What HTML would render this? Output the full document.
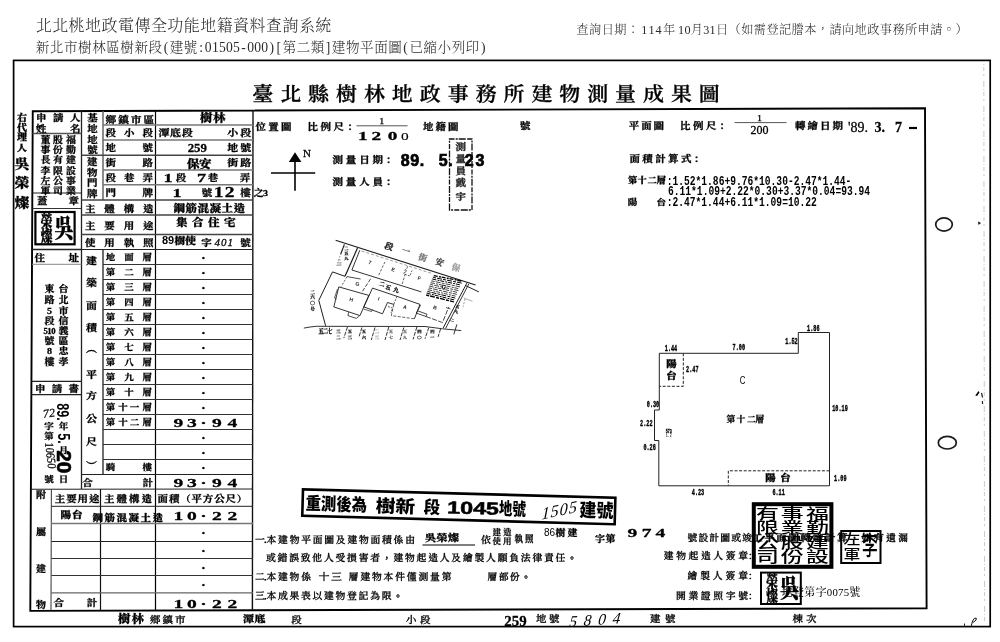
<!DOCTYPE html>
<html lang="zh-Hant">
<head>
<meta charset="utf-8">
<title>建物測量成果圖</title>
<style>
html,body{margin:0;padding:0;background:#fff;}
body{width:1000px;height:642px;overflow:hidden;position:relative;font-family:"Liberation Serif","Noto Serif CJK SC",serif;}
svg{position:absolute;left:0;top:0;display:block;will-change:transform;filter:grayscale(1);}
.k{font-family:"Liberation Serif","Noto Serif CJK SC",serif;stroke:#000;stroke-width:.28px;stroke-linejoin:round;}
.s{font-family:"Liberation Sans","Noto Sans CJK SC",sans-serif;}
.m{font-family:"Liberation Mono","Noto Sans CJK SC",monospace;}
.m.b{stroke:#000;stroke-width:.22px;}
.h{font-family:"Liberation Serif","Noto Serif CJK SC",serif;}
.t{font-family:"Liberation Sans","Noto Sans CJK TC",sans-serif;}
</style>
</head>
<body>
<svg width="1000" height="642" viewBox="0 0 1000 642">
<text class="h" x="35.73 52.18 68.62 85.08 101.53 117.98 134.43 150.88 167.32 183.77 200.22 216.67 233.12 249.57 266.02 282.47 298.92 315.37" y="31" font-size="16" font-weight="300" fill="#2a2a2a">北北桃地政電傳全功能地籍資料查詢系統</text>
<text class="h" x="35.75 49.85 63.95 78.05 92.15 106.25 120.35 134.45 148.55 163.66 169.7 183.8 199.28 204.82 211.88 218.93 225.98 233.03 241.21 247.13 254.18 261.23 269.41 276.46 282.5 296.6 310.7 325.81 331.85 345.95 360.05 374.15 388.25 403.36 409.4 423.5 437.6 451.7 465.8 480.91" y="52" font-size="13.6" font-weight="300" fill="#2a2a2a">新北市樹林區樹新段(建號:01505-000)[第二類]建物平面圖(已縮小列印)</text>
<text class="h" x="576.5 589.1 601.7 614.3 626.9 641.3 648.4 655.5 663.0 678.1 684.4 690.8 703.3 709.6 716.0 728.6 741.2 753.8 766.4 779.0 791.6 804.2 816.8 829.4 842.0 854.6 867.2 879.8 892.4 905.0 917.6 930.2 942.8 955.4" y="33.5" font-size="12.2" font-weight="300" fill="#2a2a2a">查詢日期：114年10月31日（如需登記謄本，請向地政事務所申請。）</text>
<rect x="13.6" y="60.4" width="976.6" height="566.2" fill="none" stroke="#000" stroke-width="1.7"/>
<path d="M30.3,610.9 L32.75,111.3 L925,108.2 L926.6,608.2 Z" fill="none" stroke="#000" stroke-width="1.9"/>
<text class="k" x="247.89 274.22 300.55 326.88 353.21 379.54 405.88 432.21 458.54 484.87 511.2 537.53 563.86 590.19 616.52 642.86 669.19" y="101.33" font-size="19.8" font-weight="600" text-anchor="middle" transform="matrix(1.06 0 0 1 0 0)">臺北縣樹林地政事務所建物測量成果圖</text>
<line x1="253" y1="110" x2="252.4" y2="610" stroke="#111" stroke-width="1.4"/>
<line x1="81.5" y1="111" x2="81.5" y2="489" stroke="#222" stroke-width="1.3"/>
<line x1="103" y1="111" x2="103" y2="200" stroke="#666" stroke-width="1.5"/>
<line x1="103" y1="249.5" x2="103" y2="474.5" stroke="#222" stroke-width="1.3"/>
<line x1="155.5" y1="111" x2="155.5" y2="610" stroke="#000" stroke-width="1.2"/>
<line x1="103" y1="125" x2="253" y2="125" stroke="#777" stroke-width="1.5"/>
<line x1="103" y1="140" x2="253" y2="140" stroke="#777" stroke-width="1.5"/>
<line x1="103" y1="170" x2="253" y2="170" stroke="#777" stroke-width="1.5"/>
<line x1="103" y1="184.8" x2="253" y2="184.8" stroke="#777" stroke-width="1.5"/>
<line x1="81.5" y1="155.3" x2="253" y2="155.3" stroke="#444" stroke-width="1.4"/>
<line x1="81.5" y1="200" x2="253" y2="200" stroke="#444" stroke-width="1.4"/>
<line x1="81.5" y1="215" x2="253" y2="215" stroke="#444" stroke-width="1.4"/>
<line x1="81.5" y1="234.5" x2="253" y2="234.5" stroke="#444" stroke-width="1.4"/>
<line x1="81.5" y1="249.5" x2="253" y2="249.5" stroke="#222" stroke-width="1.2"/>
<line x1="103" y1="264.5" x2="253" y2="264.5" stroke="#333" stroke-width="1"/>
<line x1="103" y1="279.5" x2="253" y2="279.5" stroke="#333" stroke-width="1"/>
<line x1="103" y1="294.5" x2="253" y2="294.5" stroke="#333" stroke-width="1"/>
<line x1="103" y1="309.5" x2="253" y2="309.5" stroke="#333" stroke-width="1"/>
<line x1="103" y1="324.5" x2="253" y2="324.5" stroke="#333" stroke-width="1"/>
<line x1="103" y1="339.5" x2="253" y2="339.5" stroke="#333" stroke-width="1"/>
<line x1="103" y1="354.5" x2="253" y2="354.5" stroke="#333" stroke-width="1"/>
<line x1="103" y1="369.5" x2="253" y2="369.5" stroke="#333" stroke-width="1"/>
<line x1="103" y1="384.5" x2="253" y2="384.5" stroke="#333" stroke-width="1"/>
<line x1="103" y1="399.5" x2="253" y2="399.5" stroke="#333" stroke-width="1"/>
<line x1="103" y1="414.5" x2="253" y2="414.5" stroke="#333" stroke-width="1"/>
<line x1="103" y1="429.5" x2="253" y2="429.5" stroke="#333" stroke-width="1"/>
<line x1="103" y1="444.5" x2="253" y2="444.5" stroke="#333" stroke-width="1"/>
<line x1="103" y1="459.5" x2="253" y2="459.5" stroke="#333" stroke-width="1"/>
<line x1="81.5" y1="474.5" x2="253" y2="474.5" stroke="#222" stroke-width="1.1"/>
<line x1="30.9" y1="489.3" x2="253" y2="489" stroke="#222" stroke-width="1.1"/>
<line x1="32.6" y1="133.5" x2="81.5" y2="133.5" stroke="#555" stroke-width="1.3"/>
<line x1="32.3" y1="193" x2="81.5" y2="193" stroke="#222" stroke-width="1.2"/>
<line x1="32.3" y1="208.5" x2="81.5" y2="208.5" stroke="#333" stroke-width="1.2"/>
<line x1="32.1" y1="249.5" x2="81.5" y2="249.5" stroke="#222" stroke-width="1.3"/>
<line x1="32.0" y1="264.3" x2="81.5" y2="264.3" stroke="#888" stroke-width="1"/>
<line x1="31.4" y1="381.3" x2="81.5" y2="381.3" stroke="#222" stroke-width="1.2"/>
<line x1="31.3" y1="394.7" x2="81.5" y2="394.7" stroke="#222" stroke-width="1.2"/>
<line x1="51.4" y1="489" x2="51.0" y2="610" stroke="#444" stroke-width="1.1"/>
<line x1="100.5" y1="489" x2="100.5" y2="610" stroke="#111" stroke-width="1.2"/>
<line x1="51.4" y1="506.3" x2="253" y2="506.3" stroke="#222" stroke-width="1"/>
<line x1="51.4" y1="523.5" x2="253" y2="523.5" stroke="#777" stroke-width="1.4"/>
<line x1="51.4" y1="541.5" x2="253" y2="541.5" stroke="#222" stroke-width="1"/>
<line x1="51.4" y1="558.5" x2="253" y2="558.5" stroke="#333" stroke-width="1"/>
<line x1="51.4" y1="575.5" x2="253" y2="575.5" stroke="#333" stroke-width="1"/>
<line x1="51.4" y1="592.8" x2="253" y2="592.8" stroke="#666" stroke-width="1.3"/>
<text class="k" x="19.3 19.3 19.3 19.3" y="120.67 130.67 140.47 150.67" font-size="8.8" font-weight="900" text-anchor="middle" transform="matrix(1.14 0 0 1 0 0)">右代理人</text>
<text class="k" x="19.3 19.3 19.3" y="168.09 187.09 206.59" font-size="12.76" font-weight="900" text-anchor="middle" transform="matrix(1.14 0 0 1 0 0)">吳榮燦</text>
<text class="k" x="36.18 51.1 66.01" y="121.33" font-size="9.24" font-weight="700" text-anchor="middle" transform="matrix(1.14 0 0 1 0 0)">申請人</text>
<text class="k" x="36.18 66.01" y="132.13" font-size="9.24" font-weight="700" text-anchor="middle" transform="matrix(1.14 0 0 1 0 0)">姓名</text>
<text class="k" x="62.28 62.28 62.28 62.28 62.28 62.28" y="142.57 153.17 163.47 173.67 183.87 193.87" font-size="8.8" font-weight="700" text-anchor="middle" transform="matrix(1.14 0 0 1 0 0)">福勤建設事業</text>
<text class="k" x="50.88 50.88 50.88 50.88 50.88 50.88" y="142.57 153.17 163.47 173.67 183.87 193.87" font-size="8.8" font-weight="700" text-anchor="middle" transform="matrix(1.14 0 0 1 0 0)">股份有限公司</text>
<text class="k" x="40.0 40.0 40.0 40.0 40.0 40.0" y="142.57 153.17 163.47 173.67 183.87 193.87" font-size="8.8" font-weight="700" text-anchor="middle" transform="matrix(1.14 0 0 1 0 0)">董事長李左軍</text>
<text class="k" x="37.06 64.69" y="203.83" font-size="9.24" font-weight="700" text-anchor="middle" transform="matrix(1.14 0 0 1 0 0)">蓋章</text>
<rect x="35.4" y="212" width="39.2" height="32.3" fill="none" stroke="#000" stroke-width="2.2"/>
<text class="k" x="71.1 51.7 51.7" y="197.9 188.8 201.3" font-weight="900" text-anchor="middle" transform="matrix(0.9 0 0 1.2 0 0)"><tspan font-size="21">吳</tspan><tspan font-size="13">榮燦</tspan></text>
<text class="k" x="34.87 64.69" y="260.63" font-size="9.24" font-weight="700" text-anchor="middle" transform="matrix(1.14 0 0 1 0 0)">住址</text>
<text class="k" x="55.7 55.7 55.7 55.7 55.7 55.7 55.7 55.7" y="291.87 302.87 313.67 323.77 333.77 343.77 354.17 364.57" font-size="8.8" font-weight="700" text-anchor="middle" transform="matrix(1.14 0 0 1 0 0)">台北市信義區忠孝</text>
<text class="k" x="43.42 43.42 43.42 43.42 40.0 43.42 46.84 43.42 43.42 43.42" y="291.9 302.9 313.7 323.8 333.8 333.8 333.8 343.8 354.2 364.6" font-size="8.8" font-weight="700" text-anchor="middle" transform="matrix(1.14 0 0 1 0 0)">東路5段<tspan font-size="7.6">510</tspan>號8樓</text>
<text class="k" x="35.31 50.0 64.69" y="391.63" font-size="9.24" font-weight="700" text-anchor="middle" transform="matrix(1.14 0 0 1 0 0)">申請書</text>
<text class="k" x="81.14 81.14 81.14 81.14" y="121.33 132.13 142.73 153.33" font-size="9.24" font-weight="700" text-anchor="middle" transform="matrix(1.14 0 0 1 0 0)">基地地號</text>
<text class="k" x="80.88 80.88 80.88 80.88" y="165.13 175.73 186.33 196.93" font-size="9.24" font-weight="700" text-anchor="middle" transform="matrix(1.14 0 0 1 0 0)">建物門牌</text>
<text class="k" x="94.47 105.25 116.04 126.82" y="122.53" font-size="9.24" font-weight="700" text-anchor="middle" transform="matrix(1.174 0 0 1 0 0)">鄉鎮市區</text>
<text class="k" x="97.15 113.38 129.61" y="136.03" font-size="9.24" font-weight="700" text-anchor="middle" transform="matrix(1.14 0 0 1 0 0)">段小段</text>
<text class="k" x="97.15 129.61" y="151.03" font-size="9.24" font-weight="700" text-anchor="middle" transform="matrix(1.14 0 0 1 0 0)">地號</text>
<text class="k" x="97.15 129.61" y="166.03" font-size="9.24" font-weight="700" text-anchor="middle" transform="matrix(1.14 0 0 1 0 0)">街路</text>
<text class="k" x="97.15 113.38 129.61" y="181.03" font-size="9.24" font-weight="700" text-anchor="middle" transform="matrix(1.14 0 0 1 0 0)">段巷弄</text>
<text class="k" x="97.15 129.61" y="196.03" font-size="9.24" font-weight="700" text-anchor="middle" transform="matrix(1.14 0 0 1 0 0)">門牌</text>
<text class="k" x="79.17 96.13 113.08 130.04" y="211.83" font-size="9.24" font-weight="700" text-anchor="middle" transform="matrix(1.14 0 0 1 0 0)">主體構造</text>
<text class="k" x="79.17 96.13 113.08 130.04" y="228.83" font-size="9.24" font-weight="700" text-anchor="middle" transform="matrix(1.14 0 0 1 0 0)">主要用途</text>
<text class="k" x="79.17 96.13 113.08 130.04" y="245.83" font-size="9.24" font-weight="700" text-anchor="middle" transform="matrix(1.14 0 0 1 0 0)">使用執照</text>
<text class="k" x="180.92 192.41" y="122.26" font-size="11.0" font-weight="900" text-anchor="middle" transform="matrix(1.14 0 0 1 0 0)">樹林</text>
<text class="k" x="143.77 154.04 164.3" y="136.18" font-size="9.68" font-weight="700" text-anchor="middle" transform="matrix(1.14 0 0 1 0 0)">潭底段</text>
<text class="k" x="204.12 215.53" y="136.18" font-size="9.68" font-weight="700" text-anchor="middle" transform="matrix(1.14 0 0 1 0 0)">小段</text>
<text class="k" x="197.3" y="152.28" font-size="11.88" font-weight="700" text-anchor="middle" transform="matrix(1.083 0 0 1 -16.38 0)">259</text>
<text class="k" x="204.12 215.53" y="151.18" font-size="9.68" font-weight="700" text-anchor="middle" transform="matrix(1.14 0 0 1 0 0)">地號</text>
<text class="k" x="169.52 180.04" y="167.96" font-size="11.0" font-weight="900" text-anchor="middle" transform="matrix(1.14 0 0 1 0 0)">保安</text>
<text class="k" x="204.12 215.53" y="166.18" font-size="9.68" font-weight="700" text-anchor="middle" transform="matrix(1.14 0 0 1 0 0)">街路</text>
<text class="k" x="168" y="181.78" font-size="11.88" font-weight="700" text-anchor="middle" transform="matrix(1.539 0 0 1 -90.55 0)">1</text>
<text class="k" x="181" y="181.03" font-size="9.24" font-weight="700" text-anchor="middle" transform="matrix(1.14 0 0 1 -25.34 0)">段</text>
<text class="k" x="201.5" y="181.78" font-size="11.88" font-weight="700" text-anchor="middle" transform="matrix(1.539 0 0 1 -108.61 0)">7</text>
<text class="k" x="213" y="181.03" font-size="9.24" font-weight="700" text-anchor="middle" transform="matrix(1.14 0 0 1 -29.82 0)">巷</text>
<text class="k" x="245" y="181.03" font-size="9.24" font-weight="700" text-anchor="middle" transform="matrix(1.14 0 0 1 -34.3 0)">弄</text>
<text class="k" x="177" y="196.78" font-size="11.88" font-weight="700" text-anchor="middle" transform="matrix(1.539 0 0 1 -95.4 0)">1</text>
<text class="k" x="207" y="196.03" font-size="9.24" font-weight="700" text-anchor="middle" transform="matrix(1.14 0 0 1 -28.98 0)">號</text>
<text class="k" x="153.33 161.05" y="197.21" font-size="13.64" font-weight="700" text-anchor="middle" transform="matrix(1.425 0 0 1 0 0)">12</text>
<text class="k" x="245.5" y="196.03" font-size="9.24" font-weight="700" text-anchor="middle" transform="matrix(1.14 0 0 1 -34.37 0)">樓</text>
<text class="k" x="227.02 232.89" y="196.17" font-size="8.8" font-weight="700" text-anchor="middle" transform="matrix(1.14 0 0 1 0 0)">之3</text>
<text class="k" x="157.32 167.83 178.34 188.85 199.36 209.87" y="211.64" font-size="10.12" font-weight="900" text-anchor="middle" transform="matrix(1.14 0 0 1 0 0)">鋼筋混凝土造</text>
<text class="k" x="159.43 173.46 187.5 201.54" y="226.44" font-size="10.12" font-weight="900" text-anchor="middle" transform="matrix(1.14 0 0 1 0 0)">集合住宅</text>
<text class="s" x="168" y="244.46" font-size="11" font-weight="700" text-anchor="middle">89</text>
<text class="k" x="157.89 167.11" y="243.98" font-size="9.68" font-weight="900" text-anchor="middle" transform="matrix(1.14 0 0 1 0 0)">樹使</text>
<text class="k" x="206.5" y="245.83" font-size="9.24" font-weight="700" text-anchor="middle" transform="matrix(1.14 0 0 1 -28.91 0)">字</text>
<text class="k" x="214.5" y="245.5" font-size="11" font-weight="400" textLength="18.5" lengthAdjust="spacing" font-style="italic">401</text>
<text class="k" x="245.5" y="245.83" font-size="9.24" font-weight="700" text-anchor="middle" transform="matrix(1.14 0 0 1 -34.37 0)">號</text>
<text class="k" x="80.35 80.35 80.35 80.35 80.35 80.35 80.35 80.35 80.35 80.35" y="264.08 286.48 309.48 331.28 352.08 377.98 399.38 421.68 445.38 469.48" font-size="9.68" font-weight="700" text-anchor="middle" transform="matrix(1.14 0 0 1 0 0)">建築面積︵平方公尺︶</text>
<text class="k" x="96.93 113.16 129.21" y="260.01" font-size="8.36" font-weight="700" text-anchor="middle" transform="matrix(1.14 0 0 1 0 0)">地面層</text>
<text class="k" x="162.2" y="261.52" font-size="11.44" font-weight="700" text-anchor="middle" transform="matrix(1.254 0 0 1 0 0)">·</text>
<text class="k" x="96.93 113.16 129.21" y="275.01" font-size="8.36" font-weight="700" text-anchor="middle" transform="matrix(1.14 0 0 1 0 0)">第二層</text>
<text class="k" x="162.2" y="276.52" font-size="11.44" font-weight="700" text-anchor="middle" transform="matrix(1.254 0 0 1 0 0)">·</text>
<text class="k" x="96.93 113.16 129.21" y="290.01" font-size="8.36" font-weight="700" text-anchor="middle" transform="matrix(1.14 0 0 1 0 0)">第三層</text>
<text class="k" x="162.2" y="291.52" font-size="11.44" font-weight="700" text-anchor="middle" transform="matrix(1.254 0 0 1 0 0)">·</text>
<text class="k" x="96.93 113.16 129.21" y="305.01" font-size="8.36" font-weight="700" text-anchor="middle" transform="matrix(1.14 0 0 1 0 0)">第四層</text>
<text class="k" x="162.2" y="306.52" font-size="11.44" font-weight="700" text-anchor="middle" transform="matrix(1.254 0 0 1 0 0)">·</text>
<text class="k" x="96.93 113.16 129.21" y="320.01" font-size="8.36" font-weight="700" text-anchor="middle" transform="matrix(1.14 0 0 1 0 0)">第五層</text>
<text class="k" x="162.2" y="321.52" font-size="11.44" font-weight="700" text-anchor="middle" transform="matrix(1.254 0 0 1 0 0)">·</text>
<text class="k" x="96.93 113.16 129.21" y="335.01" font-size="8.36" font-weight="700" text-anchor="middle" transform="matrix(1.14 0 0 1 0 0)">第六層</text>
<text class="k" x="162.2" y="336.52" font-size="11.44" font-weight="700" text-anchor="middle" transform="matrix(1.254 0 0 1 0 0)">·</text>
<text class="k" x="96.93 113.16 129.21" y="350.01" font-size="8.36" font-weight="700" text-anchor="middle" transform="matrix(1.14 0 0 1 0 0)">第七層</text>
<text class="k" x="162.2" y="351.52" font-size="11.44" font-weight="700" text-anchor="middle" transform="matrix(1.254 0 0 1 0 0)">·</text>
<text class="k" x="96.93 113.16 129.21" y="365.01" font-size="8.36" font-weight="700" text-anchor="middle" transform="matrix(1.14 0 0 1 0 0)">第八層</text>
<text class="k" x="162.2" y="366.52" font-size="11.44" font-weight="700" text-anchor="middle" transform="matrix(1.254 0 0 1 0 0)">·</text>
<text class="k" x="96.93 113.16 129.21" y="380.01" font-size="8.36" font-weight="700" text-anchor="middle" transform="matrix(1.14 0 0 1 0 0)">第九層</text>
<text class="k" x="162.2" y="381.52" font-size="11.44" font-weight="700" text-anchor="middle" transform="matrix(1.254 0 0 1 0 0)">·</text>
<text class="k" x="96.93 113.16 129.21" y="395.01" font-size="8.36" font-weight="700" text-anchor="middle" transform="matrix(1.14 0 0 1 0 0)">第十層</text>
<text class="k" x="162.2" y="396.52" font-size="11.44" font-weight="700" text-anchor="middle" transform="matrix(1.254 0 0 1 0 0)">·</text>
<text class="k" x="96.93 107.89 118.07 129.21" y="410.01" font-size="8.36" font-weight="700" text-anchor="middle" transform="matrix(1.14 0 0 1 0 0)">第十一層</text>
<text class="k" x="162.2" y="411.52" font-size="11.44" font-weight="700" text-anchor="middle" transform="matrix(1.254 0 0 1 0 0)">·</text>
<text class="k" x="96.93 107.89 118.07 129.21" y="425.01" font-size="8.36" font-weight="700" text-anchor="middle" transform="matrix(1.14 0 0 1 0 0)">第十二層</text>
<text class="k" x="162.2" y="441.52" font-size="11.44" font-weight="700" text-anchor="middle" transform="matrix(1.254 0 0 1 0 0)">·</text>
<text class="k" x="162.2" y="456.52" font-size="11.44" font-weight="700" text-anchor="middle" transform="matrix(1.254 0 0 1 0 0)">·</text>
<text class="k" x="96.93 129.21" y="470.01" font-size="8.36" font-weight="700" text-anchor="middle" transform="matrix(1.14 0 0 1 0 0)">騎樓</text>
<text class="k" x="162.2" y="471.52" font-size="11.44" font-weight="700" text-anchor="middle" transform="matrix(1.254 0 0 1 0 0)">·</text>
<text class="k" x="120.45 129.55 137.31 146.42 156.75" y="426.95" font-size="13.2" font-weight="700" text-anchor="middle" transform="matrix(1.482 0 0 1 0 0)">93·94</text>
<text class="k" x="76.75 129.65" y="485.83" font-size="9.24" font-weight="700" text-anchor="middle" transform="matrix(1.14 0 0 1 0 0)">合計</text>
<text class="k" x="120.45 129.55 137.31 146.42 156.75" y="487.45" font-size="13.2" font-weight="700" text-anchor="middle" transform="matrix(1.482 0 0 1 0 0)">93·94</text>
<text class="k" x="35.96 35.96 35.96 35.96" y="497.87 534.67 572.17 608.17" font-size="8.8" font-weight="700" text-anchor="middle" transform="matrix(1.14 0 0 1 0 0)">附屬建物</text>
<text class="k" x="52.68 62.68 72.68 82.68" y="502.23" font-size="9.24" font-weight="700" text-anchor="middle" transform="matrix(1.14 0 0 1 0 0)">主要用途</text>
<text class="k" x="95.83 106.8 117.76 128.73" y="502.23" font-size="9.24" font-weight="700" text-anchor="middle" transform="matrix(1.14 0 0 1 0 0)">主體構造</text>
<text class="k" x="142.85 152.78 162.7 172.63 182.55 192.47 202.4 212.32" y="502.23" font-size="9.24" font-weight="700" text-anchor="middle" transform="matrix(1.14 0 0 1 0 0)">面積（平方公尺）</text>
<text class="k" x="57.68 67.76" y="517.83" font-size="9.24" font-weight="900" text-anchor="middle" transform="matrix(1.14 0 0 1 0 0)">陽台</text>
<text class="k" x="85.75 96.27 106.8 117.32 127.85 138.38" y="520.83" font-size="9.24" font-weight="900" text-anchor="middle" transform="matrix(1.14 0 0 1 0 0)">鋼筋混凝土造</text>
<text class="k" x="120.45 129.55 137.31 146.42 156.75" y="520.35" font-size="13.2" font-weight="700" text-anchor="middle" transform="matrix(1.482 0 0 1 0 0)">10·22</text>
<text class="k" x="162.2" y="537.02" font-size="11.44" font-weight="700" text-anchor="middle" transform="matrix(1.254 0 0 1 0 0)">·</text>
<text class="k" x="162.2" y="554.52" font-size="11.44" font-weight="700" text-anchor="middle" transform="matrix(1.254 0 0 1 0 0)">·</text>
<text class="k" x="162.2" y="571.52" font-size="11.44" font-weight="700" text-anchor="middle" transform="matrix(1.254 0 0 1 0 0)">·</text>
<text class="k" x="162.2" y="588.52" font-size="11.44" font-weight="700" text-anchor="middle" transform="matrix(1.254 0 0 1 0 0)">·</text>
<text class="k" x="51.58 80.7" y="606.13" font-size="9.24" font-weight="700" text-anchor="middle" transform="matrix(1.14 0 0 1 0 0)">合計</text>
<text class="k" x="120.45 129.55 137.31 146.42 156.75" y="607.75" font-size="13.2" font-weight="700" text-anchor="middle" transform="matrix(1.482 0 0 1 0 0)">10·22</text>
<text class="k" x="228.73 239.91 251.1" y="129.63" font-size="9.24" font-weight="700" text-anchor="middle" transform="matrix(1.14 0 0 1 0 0)">位置圖</text>
<text class="k" x="274.34 285.75 297.15" y="129.63" font-size="9.24" font-weight="700" text-anchor="middle" transform="matrix(1.14 0 0 1 0 0)">比例尺</text>
<text class="k" x="352.5" y="129.63" font-size="9.24" font-weight="700" text-anchor="middle" transform="matrix(1.14 0 0 1 -49.35 0)">：</text>
<line x1="356.5" y1="125.8" x2="407.5" y2="125.8" stroke="#555" stroke-width="1"/>
<text class="k" x="381.8" y="123.97" font-size="8.8" font-weight="400" text-anchor="middle" transform="matrix(1.14 0 0 1 -53.45 0)">1</text>
<text class="k" x="247.7 256.9 268 276.4" y="140.35" font-size="13.2" font-weight="700" text-anchor="middle" transform="matrix(1.465 0 0 1 0 0)">120<tspan font-size="10.5" font-weight="400" dy="-0.6" style="stroke-width:.1px">0</tspan></text>
<text class="k" x="375.66 386.62 397.59" y="129.63" font-size="9.24" font-weight="700" text-anchor="middle" transform="matrix(1.14 0 0 1 0 0)">地籍圖</text>
<text class="k" x="525.3" y="128.53" font-size="9.24" font-weight="700" text-anchor="middle" transform="matrix(1.14 0 0 1 -73.54 0)">號</text>
<text class="k" x="556.18 567.02 577.85" y="128.63" font-size="9.24" font-weight="700" text-anchor="middle" transform="matrix(1.14 0 0 1 0 0)">平面圖</text>
<text class="k" x="601.1 612.5 623.9" y="128.63" font-size="9.24" font-weight="700" text-anchor="middle" transform="matrix(1.14 0 0 1 0 0)">比例尺</text>
<text class="k" x="724.5" y="128.63" font-size="9.24" font-weight="700" text-anchor="middle" transform="matrix(1.14 0 0 1 -101.43 0)">：</text>
<line x1="734.5" y1="122.6" x2="786.5" y2="122.6" stroke="#555" stroke-width="1"/>
<text class="k" x="759.5" y="121.47" font-size="8.8" font-weight="400" text-anchor="middle" transform="matrix(1.14 0 0 1 -106.33 0)">1</text>
<text class="k" x="759.5" y="133.92" font-size="11.44" font-weight="400" text-anchor="middle" transform="matrix(1.049 0 0 1 -37.22 0)">200</text>
<text class="k" x="701.97 712.94 723.9 734.87" y="128.63" font-size="9.24" font-weight="700" text-anchor="middle" transform="matrix(1.14 0 0 1 0 0)">轉繪日期</text>
<text class="k" x="848" y="132" font-size="14" font-weight="400">&#x27;89.</text>
<text class="k" x="874.5" y="132" font-size="14" font-weight="900">3.</text>
<text class="k" x="895" y="132" font-size="14" font-weight="900">7</text>
<line x1="909" y1="128" x2="917" y2="128" stroke="#000" stroke-width="2.2"/>
<line x1="295" y1="160" x2="295" y2="190.8" stroke="#000" stroke-width="1.6"/>
<line x1="271" y1="173" x2="315.2" y2="173" stroke="#000" stroke-width="1.3"/>
<path d="M295,152.2 L301.4,162 L288.8,162 Z" fill="#000"/>
<text class="k" x="307" y="157.28" font-size="9.68" font-weight="400" text-anchor="middle" transform="matrix(1.14 0 0 1 -42.98 0)">N</text>
<text class="k" x="296.27 307.97 319.66 331.36" y="163.33" font-size="9.24" font-weight="700" text-anchor="middle" transform="matrix(1.14 0 0 1 0 0)">測量日期</text>
<text class="k" x="391" y="163.33" font-size="9.24" font-weight="700" text-anchor="middle" transform="matrix(1.14 0 0 1 -54.74 0)">：</text>
<text class="s" x="400.8" y="165.6" font-size="16" font-weight="700" letter-spacing="0.6" stroke="#000" stroke-width="0.7">89.</text>
<text class="s" x="438.8" y="165.6" font-size="16" font-weight="700" letter-spacing="0.6" stroke="#000" stroke-width="0.7">5.</text>
<text class="s" x="464.8" y="165.6" font-size="16" font-weight="700" letter-spacing="1.8" stroke="#000" stroke-width="0.7">23</text>
<text class="k" x="296.27 307.97 319.66 331.36" y="185.13" font-size="9.24" font-weight="700" text-anchor="middle" transform="matrix(1.14 0 0 1 0 0)">測量人員</text>
<text class="k" x="391" y="185.13" font-size="9.24" font-weight="700" text-anchor="middle" transform="matrix(1.14 0 0 1 -54.74 0)">：</text>
<rect x="449.5" y="139" width="22.5" height="71" fill="none" stroke="#111" stroke-width="1.3" stroke-dasharray="5 1.2 2 1 7 1.5"/>
<text class="k" x="404.21 404.21 404.21 404.21 404.21" y="149.83 161.83 173.83 186.33 200.33" font-size="9.24" font-weight="700" text-anchor="middle" transform="matrix(1.14 0 0 1 0 0)" fill="#222" style="stroke:#222">測量員戴宇</text>
<text class="k" x="556.8 568.09 579.39 590.68 601.97" y="162.13" font-size="9.24" font-weight="700" text-anchor="middle" transform="matrix(1.14 0 0 1 0 0)">面積計算式</text>
<text class="k" x="699" y="162.13" font-size="9.24" font-weight="700" text-anchor="middle" transform="matrix(1.14 0 0 1 -97.86 0)">：</text>
<text class="k" x="554.91 563.42 572.19 580.26" y="182.94" font-size="8.18" font-weight="800" text-anchor="middle" transform="matrix(1.14 0 0 1 0 0)">第十二層</text>
<text class="m" transform="translate(666.7 184.7) scale(1 1.355)" font-size="9.625" font-weight="700">:1.52*1.86+9.76*10.30-2.47*1.44-</text>
<text class="m" transform="translate(668 195.3) scale(1 1.355)" font-size="9.625" font-weight="700">6.11*1.09+2.22*0.30+3.37*0.04=93.94</text>
<text class="k" x="554.91 580.09" y="204.81" font-size="8.36" font-weight="700" text-anchor="middle" transform="matrix(1.14 0 0 1 0 0)">陽台</text>
<text class="m" transform="translate(666.7 206.3) scale(1 1.355)" font-size="9.625" font-weight="700">:2.47*1.44+6.11*1.09=10.22</text>
<path d="M659.3,353.3 L798.3,353.3 L798.3,332.5 L829.5,332.5 L829.5,485.8 L658.8,485.8 L658.8,440.5 L654.5,440.5 L654.5,410 L659.3,410 L659.3,353.3" fill="none" stroke="#222" stroke-width="1"/>
<path d="M683.3,353.3 L683.3,386.3 L659.3,386.3" fill="none" stroke="#222" stroke-width="1" stroke-dasharray="3 1.6"/>
<path d="M829.5,470.8 L728.3,470.8 L728.3,485.8" fill="none" stroke="#222" stroke-width="1" stroke-dasharray="3 1.6"/>
<text class="m b" transform="translate(664.8 350.5) scale(1 1.683)" font-size="5.167" font-weight="700">1.44</text>
<text class="m b" transform="translate(732.6 350.2) scale(1 1.683)" font-size="5.167" font-weight="700">7.00</text>
<text class="m b" transform="translate(785.3 344.2) scale(1 1.683)" font-size="5.167" font-weight="700">1.52</text>
<text class="m b" transform="translate(807.1 330.5) scale(1 1.683)" font-size="5.167" font-weight="700">1.86</text>
<text class="m b" transform="translate(686.1 372.3) scale(1 1.683)" font-size="5.167" font-weight="700">2.47</text>
<text class="m b" transform="translate(832.25 411.3) scale(1 1.683)" font-size="5.167" font-weight="700">10.19</text>
<text class="m b" transform="translate(646.8 406.8) scale(1 1.683)" font-size="5.167" font-weight="700">0.30</text>
<text class="m b" transform="translate(640.1 426.3) scale(1 1.683)" font-size="5.167" font-weight="700">2.22</text>
<text class="m b" transform="translate(643.4 450.3) scale(1 1.683)" font-size="5.167" font-weight="700">0.26</text>
<text class="m b" transform="translate(691.8 495.0) scale(1 1.683)" font-size="5.167" font-weight="700">4.23</text>
<text class="m b" transform="translate(772.4 495.0) scale(1 1.683)" font-size="5.167" font-weight="700">6.11</text>
<text class="m b" transform="translate(834.1 480.5) scale(1 1.683)" font-size="5.167" font-weight="700">1.09</text>
<text class="s" x="742.5" y="383.78" font-size="10.5" font-weight="400" text-anchor="middle" transform="matrix(0.75 0 0 1 185.62 0)">C</text>
<text class="k" x="588.86 588.86" y="367.26 379.46" font-size="9.06" font-weight="900" text-anchor="middle" transform="matrix(1.14 0 0 1 0 0)">陽台</text>
<text class="k" x="675.88 689.04" y="481.46" font-size="9.06" font-weight="900" text-anchor="middle" transform="matrix(1.14 0 0 1 0 0)">陽台</text>
<text class="k" x="641.23 649.82 659.21 666.67" y="422.09" font-size="7.74" font-weight="700" text-anchor="middle" transform="matrix(1.14 0 0 1 0 0)">第十二層</text>
<text class="m b" transform="translate(665.7 432.7) scale(1 1.478)" font-size="3.333" font-weight="700">573</text>
<text class="m" transform="translate(665.7 436.6) scale(1 1.391)" font-size="3.333" font-weight="700" fill="#444">1.2</text>
<g transform="rotate(1.55 303 489)">
<rect x="303" y="489.3" width="312.5" height="26.5" fill="none" stroke="#000" stroke-width="2.6"/>
<text class="s" x="306" y="509.5" font-size="17.5" font-weight="900" textLength="61.5" lengthAdjust="spacingAndGlyphs">重測後為</text>
<text class="s" x="376" y="510" font-size="17.5" font-weight="900" textLength="39.5" lengthAdjust="spacingAndGlyphs">樹新</text>
<text class="s" x="424" y="510" font-size="17.5" font-weight="900" textLength="16.5" lengthAdjust="spacingAndGlyphs">段</text>
<text class="s" x="447.5" y="509.5" font-size="17.5" font-weight="700" textLength="52" lengthAdjust="spacingAndGlyphs" stroke="#000" stroke-width="0.5">1045</text>
<text class="s" x="499.5" y="509.5" font-size="17.5" font-weight="900" textLength="27" lengthAdjust="spacingAndGlyphs">地號</text>
<text class="s" x="580" y="509" font-size="18.5" font-weight="900" textLength="34" lengthAdjust="spacingAndGlyphs">建號</text>
</g>
<text class="h" transform="translate(541.5 519.5) rotate(-12) skewX(-14)" font-size="16.5" font-weight="400" font-style="italic" textLength="36" lengthAdjust="spacing">1505</text>
<text class="k" x="227.98 238.12 248.25 258.39 268.52 278.66 288.79 298.93 309.06 319.2 329.33 339.47 349.6 359.74" y="542.6" font-size="8.62" font-weight="500" text-anchor="middle" transform="matrix(1.14 0 0 1 0 0)">一本建物平面圖及建物面積係由</text>
<rect x="264.5" y="541.5" width="1.6" height="1.6" fill="#000"/>
<text class="k" x="377.63 387.72 397.81" y="541.48" font-size="9.68" font-weight="900" text-anchor="middle" transform="matrix(1.14 0 0 1 0 0)">吳榮燦</text>
<line x1="422.5" y1="545" x2="475" y2="545" stroke="#000" stroke-width="1.1"/>
<text class="k" x="486" y="542.6" font-size="8.62" font-weight="500" text-anchor="middle" transform="matrix(1.14 0 0 1 -68.04 0)">依</text>
<text class="k" x="435.75 444.96" y="535.19" font-size="7.48" font-weight="500" text-anchor="middle" transform="matrix(1.14 0 0 1 0 0)">建造</text>
<text class="k" x="435.75 444.96" y="544.19" font-size="7.48" font-weight="500" text-anchor="middle" transform="matrix(1.14 0 0 1 0 0)">使用</text>
<text class="k" x="568.75 580.37" y="542.33" font-size="9.24" font-weight="700" text-anchor="middle" transform="matrix(0.912 0 0 1 0 0)">執照</text>
<text class="s" x="549.5" y="536.1" font-size="10" font-weight="400" text-anchor="middle">86</text>
<text class="k" x="491.67 502.19" y="535.67" font-size="8.8" font-weight="700" text-anchor="middle" transform="matrix(1.14 0 0 1 0 0)">樹建</text>
<text class="k" x="526.32 535.53" y="541.67" font-size="8.8" font-weight="700" text-anchor="middle" transform="matrix(1.14 0 0 1 0 0)">字第</text>
<text class="k" x="426.79 436.37 445.55" y="536.75" font-size="13.2" font-weight="700" text-anchor="middle" transform="matrix(1.482 0 0 1 0 0)">974</text>
<text class="k" x="607.37 616.96 626.56 636.16 645.75 655.35" y="541.1" font-size="8.62" font-weight="500" text-anchor="middle" transform="matrix(1.14 0 0 1 0 0)">號設計圖或竣</text>
<text class="k" x="781.49 792.19" y="540.6" font-size="8.62" font-weight="500" text-anchor="middle" transform="matrix(1.14 0 0 1 0 0)">遺漏</text>
<text class="k" x="237.63 247.79 257.96 268.12 278.28 288.44 298.6 308.77 318.93 329.09 339.25 349.41 359.57 369.74 379.9 390.06 400.22 410.38 420.55 430.71 440.87 451.03 461.19 471.36 481.52 491.68 501.84" y="561.1" font-size="8.62" font-weight="500" text-anchor="middle" transform="matrix(1.14 0 0 1 0 0)">或錯誤致他人受損害者<tspan class="t" font-weight="500" font-size="7.9">，</tspan>建物起造人及繪製人願負法律責任<tspan class="t" font-weight="500" font-size="7.9">。</tspan></text>
<text class="k" x="586.58 597.46 608.33 619.21 630.09 640.96 651.84" y="559.4" font-size="8.62" font-weight="500" text-anchor="middle" transform="matrix(1.14 0 0 1 0 0)">建物起造人簽章</text>
<text class="k" x="753" y="559.4" font-size="8.62" font-weight="500" text-anchor="middle" transform="matrix(1.14 0 0 1 -105.42 0)">：</text>
<text class="k" x="227.98 238.11 248.25 258.38 268.51" y="580.1" font-size="8.62" font-weight="500" text-anchor="middle" transform="matrix(1.14 0 0 1 0 0)">二本建物係</text>
<rect x="264.5" y="579" width="1.6" height="1.6" fill="#000"/>
<text class="k" x="284.21 295.18" y="579.78" font-size="9.68" font-weight="400" text-anchor="middle" transform="matrix(1.14 0 0 1 0 0)">十三</text>
<text class="k" x="310.26 320.45 330.64 340.82 351.01 361.2 371.38 381.57 391.75" y="580.1" font-size="8.62" font-weight="500" text-anchor="middle" transform="matrix(1.14 0 0 1 0 0)">層建物本件僅測量第</text>
<text class="k" x="431.93 441.78 451.64 461.49" y="580.1" font-size="8.62" font-weight="500" text-anchor="middle" transform="matrix(1.14 0 0 1 0 0)">層部份<tspan class="t" font-weight="500" font-size="7.9">。</tspan></text>
<text class="k" x="607.37 618.49 629.61 640.72 651.84" y="579.4" font-size="8.62" font-weight="500" text-anchor="middle" transform="matrix(1.14 0 0 1 0 0)">繪製人簽章</text>
<text class="k" x="753" y="579.4" font-size="8.62" font-weight="500" text-anchor="middle" transform="matrix(1.14 0 0 1 -105.42 0)">：</text>
<text class="k" x="227.98 238.08 248.19 258.29 268.39 278.49 288.6 298.7 308.8 318.9 329.01 339.11 349.21" y="599.1" font-size="8.62" font-weight="500" text-anchor="middle" transform="matrix(1.14 0 0 1 0 0)">三本成果表以建物登記為限<tspan class="t" font-weight="500" font-size="7.9">。</tspan></text>
<rect x="264.5" y="598" width="1.6" height="1.6" fill="#000"/>
<text class="k" x="597.28 608.19 619.11 630.02 640.93 651.84" y="598.9" font-size="8.62" font-weight="500" text-anchor="middle" transform="matrix(1.14 0 0 1 0 0)">開業證照字號</text>
<text class="k" x="753" y="598.9" font-size="8.62" font-weight="500" text-anchor="middle" transform="matrix(1.14 0 0 1 -105.42 0)">：</text>
<text class="h" x="781.75 793.05 804.35 815.65 826.82 832.47 838.12 843.77 849.55" y="596.3" font-size="10.8" font-weight="500" fill="#000">地登第字0075號</text>
<text class="k" x="108.99 120.83" y="622.96" font-size="11.0" font-weight="900" text-anchor="middle" transform="matrix(1.14 0 0 1 0 0)">樹林</text>
<text class="k" x="136.18 147.15 158.11" y="622.63" font-size="9.24" font-weight="500" text-anchor="middle" transform="matrix(1.14 0 0 1 0 0)">鄉鎮市</text>
<text class="k" x="217.98 228.07" y="621.98" font-size="9.68" font-weight="900" text-anchor="middle" transform="matrix(1.14 0 0 1 0 0)">潭底</text>
<text class="k" x="296.5" y="622.63" font-size="9.24" font-weight="500" text-anchor="middle" transform="matrix(1.14 0 0 1 -41.51 0)">段</text>
<text class="k" x="360.75 373.03" y="622.63" font-size="9.24" font-weight="500" text-anchor="middle" transform="matrix(1.14 0 0 1 0 0)">小段</text>
<text class="k" x="515.5" y="626.07" font-size="14.08" font-weight="700" text-anchor="middle" transform="matrix(1.06 0 0 1 -30.93 0)">259</text>
<text class="k" x="474.78 486.18" y="621.83" font-size="9.24" font-weight="500" text-anchor="middle" transform="matrix(1.14 0 0 1 0 0)">地號</text>
<text class="h" transform="translate(569 626.8) rotate(-4) skewX(-10)" font-size="15.5" font-weight="400" font-style="italic" textLength="51" lengthAdjust="spacing">5804</text>
<text class="k" x="574.78 587.94" y="621.83" font-size="9.24" font-weight="500" text-anchor="middle" transform="matrix(1.14 0 0 1 0 0)">建號</text>
<text class="k" x="699.78 711.62" y="621.83" font-size="9.24" font-weight="500" text-anchor="middle" transform="matrix(1.14 0 0 1 0 0)">棟次</text>
<text class="k" x="664.25 674.91 685.57 696.23 706.89 717.54 728.2 738.86 749.52 760.18 770.83" y="540.93" font-size="9.24" font-weight="700" text-anchor="middle" transform="matrix(1.14 0 0 1 0 0)">工平面圖轉繪計算<tspan class="t" font-weight="500" font-size="8.5">，</tspan>如有</text>
<rect x="753.8" y="504.2" width="77.6" height="62.6" fill="none" stroke="#000" stroke-width="4"/>
<text class="s" x="517.41 517.41 517.41 517.41" y="518.52 533.12 547.72 562.32" font-size="14.5" font-weight="500" text-anchor="middle" transform="matrix(1.58 0 0 1 0 0)">福勤建設</text>
<text class="s" x="501.46 501.46 501.46 501.46" y="518.52 533.12 547.72 562.32" font-size="14.5" font-weight="500" text-anchor="middle" transform="matrix(1.58 0 0 1 0 0)">事業股份</text>
<text class="s" x="485.76 485.76 485.76 485.76" y="518.52 533.12 547.72 562.32" font-size="14.5" font-weight="500" text-anchor="middle" transform="matrix(1.58 0 0 1 0 0)">有限公司</text>
<rect x="841.2" y="531" width="39.3" height="32" fill="none" stroke="#000" stroke-width="2"/>
<text class="s" x="870" y="555.5" font-size="15" font-weight="500" text-anchor="middle" transform="translate(870 555.5) scale(1.05 1.75) translate(-870 -555.5)">李</text>
<text class="s" x="681.6 681.6" y="544.36 559.16" font-size="13.5" font-weight="500" text-anchor="middle" transform="matrix(1.25 0 0 1 0 0)">左軍</text>
<rect x="761" y="572.6" width="39.8" height="31.4" fill="none" stroke="#000" stroke-width="2"/>
<text class="k" x="877.3 857.9 857.9" y="497.9 488.8 501.3" font-weight="900" text-anchor="middle" transform="matrix(0.9 0 0 1.2 0 0)"><tspan font-size="21">吳</tspan><tspan font-size="13">榮燦</tspan></text>
<ellipse cx="944" cy="224.5" rx="8.3" ry="6.6" fill="none" stroke="#1a1a1a" stroke-width="1.7"/>
<ellipse cx="947.3" cy="442.7" rx="9" ry="6.3" fill="none" stroke="#1a1a1a" stroke-width="1.7"/>
<line x1="983.8" y1="64" x2="984.6" y2="622" stroke="#c4c4c4" stroke-width="0.9" stroke-dasharray="1 2 4 3 2 5 6 2"/>
<path d="M978,221.5 L981,223 L978.5,225 Z" fill="#111"/>
<path d="M975.3,395.5 L978.5,391 L979.5,392.5 L977,396 Z" fill="#000"/>
<path d="M981.5,393 L982.6,397.5 M982.4,401 L982.6,404" fill="none" stroke="#222" stroke-width="1.2"/>
<path d="M971.3,626 L972.5,621 Q974.5,617 976.3,618.2 Q977.3,620 973,622.5" fill="none" stroke="#111" stroke-width="1"/>
<line x1="964.5" y1="623.5" x2="964.5" y2="626.5" stroke="#222" stroke-width="1"/>
<g fill="none" stroke="#1c1c1c" stroke-width="0.9" stroke-linecap="butt">
<path d="M335.6,240.3 L475.6,285" stroke-width="1.1"/>
<path d="M465.6,285.6 L478.8,291.9" stroke-width="1"/>
<path d="M344.4,244.4 L340.6,254.4" stroke-width="1.2"/>
<path d="M340,256 L336.5,267" stroke-width="0.7" stroke-dasharray="1.5 1.5" stroke="#666"/>
<path d="M332.5,271.9 L318.8,300.4 L325.6,325.8" stroke-width="1"/>
<path d="M332.5,271.9 L345,276.3" stroke-width="1"/>
<path d="M357.5,248.1 L345,276.3" stroke-width="1.2"/>
<path d="M359.8,250.2 L351.9,270 L421.3,291.9" stroke-width="0.9"/>
<path d="M361.5,251 L432,273.5" stroke-width="0.6" stroke-dasharray="3 2" stroke="#555"/>
<path d="M385,261.9 L378.1,276.3" stroke-width="0.7" stroke-dasharray="2.5 1.5"/>
<path d="M407.5,266.3 L401.9,285" stroke-width="0.7" stroke-dasharray="2.5 1.5"/>
<path d="M405.5,269 L403.8,274 L410,276 L412,270.5" stroke-width="0.7" stroke-dasharray="2 1.2"/>
<path d="M346.9,276.6 L360.6,279" stroke-width="0.8"/>
<path d="M346.9,276.8 L341.3,286.5" stroke-width="0.7" stroke-dasharray="2 1.5"/>
<path d="M370.6,278.8 L362.5,291.3" stroke-width="0.8" stroke-dasharray="4 1.5"/>
<path d="M338.8,286.9 L368.8,295.4" stroke-width="0.9"/>
<path d="M338.8,286.9 L333.8,306.9 L360,315.6 L368.8,295.4" stroke-width="0.9"/>
<path d="M337.5,289 L334.5,298 L336.5,299" stroke-width="0.7"/>
<path d="M348.7,312.2 L347.9,315.6 L356.3,318.4 L359.5,315.8" stroke-width="0.8"/>
<path d="M363.8,306.9 L372.5,288.1 L396.9,296.3" stroke-width="0.9"/>
<path d="M363.8,306.9 L382.5,313.8 L387.5,302.5 L393.8,304.4" stroke-width="0.9"/>
<path d="M363.5,309 L371.5,311.5 L372.5,309.5" stroke-width="0.7"/>
<path d="M396.9,296.3 L393.3,305.5" stroke-width="0.7" stroke-dasharray="2 1.2"/>
<path d="M396.9,296.3 L420,304.4 L414.4,318.8" stroke-width="0.9"/>
<path d="M393.8,304.4 L391.3,315.6 L414.4,318.8" stroke-width="0.7" stroke-dasharray="3 1.5"/>
<path d="M388,306.5 L392.5,308 L391,313" stroke-width="0.7" stroke-dasharray="2 1"/>
<path d="M420.6,305 L416.3,313.1 L426,316.5 L427,314.2 L418,311" stroke-width="0.8"/>
<path d="M426,316.5 L442.5,322.5 L448.8,306.9" stroke-width="0.8" stroke-dasharray="5 1.5"/>
<path d="M446,307.5 L450.5,309" stroke-width="0.7"/>
<path d="M433.8,275.6 L462.5,281.2" stroke-width="1.4" stroke-dasharray="4 1.2 2 0.8" stroke="#000"/>
<path d="M433.1,277.4 L461.7,283.1" stroke-width="1.0" stroke-dasharray="3 1 5 1.2" stroke="#000"/>
<path d="M432.4,279.1 L460.9,285.0" stroke-width="1.0" stroke-dasharray="4 1.2 2 0.8" stroke="#000"/>
<path d="M431.7,280.9 L460.1,286.9" stroke-width="1.0" stroke-dasharray="3 1 5 1.2" stroke="#444"/>
<path d="M431.0,282.7 L459.3,288.8" stroke-width="1.0" stroke-dasharray="4 1.2 2 0.8" stroke="#444"/>
<path d="M430.3,284.4 L458.5,290.6" stroke-width="1.0" stroke-dasharray="3 1 5 1.2" stroke="#444"/>
<path d="M429.7,286.2 L457.7,292.5" stroke-width="1.0" stroke-dasharray="4 1.2 2 0.8" stroke="#444"/>
<path d="M429.0,287.9 L456.9,294.4" stroke-width="1.0" stroke-dasharray="3 1 5 1.2" stroke="#444"/>
<path d="M428.3,289.7 L456.1,296.3" stroke-width="1.0" stroke-dasharray="4 1.2 2 0.8" stroke="#444"/>
<path d="M427.6,291.5 L455.3,298.1" stroke-width="1.0" stroke-dasharray="3 1 5 1.2" stroke="#000"/>
<path d="M426.9,293.2 L454.5,300.0" stroke-width="1.0" stroke-dasharray="4 1.2 2 0.8" stroke="#000"/>
<path d="M426.2,295.0 L453.8,301.9" stroke-width="1.4" stroke-dasharray="3 1 5 1.2" stroke="#000"/>
<path d="M433.75,275.6 L426.25,295" stroke-width="0.6" stroke="#888"/>
<path d="M466.9,283.1 L443.1,328.1" stroke-width="1"/>
<path d="M468.8,284 L445.6,328.4" stroke-width="0.9"/>
<path d="M463.8,298.1 L472.5,301.3" stroke-width="0.6" stroke="#777"/>
<path d="M465,298.8 L463.1,306.9" stroke-width="0.6" stroke-dasharray="2 1.5" stroke="#555"/>
<path d="M303.8,328.1 L310,327 L316.3,326.3 L425,326.5 L442.5,328.8 L461.3,330.6" stroke-width="0.9"/>
<path d="M456.9,324.4 L453.8,334.4" stroke-width="0.9"/>
<path d="M347.5,326.9 L343.8,338.1" stroke-width="0.9" stroke-dasharray="4 1.2"/>
<path d="M361.9,327.5 L358.8,337.5" stroke-width="0.9" stroke-dasharray="4 1.2"/>
<path d="M375,327.5 L371.3,340" stroke-width="0.9" stroke-dasharray="4 1.2"/>
<path d="M388.8,326.9 L385,340" stroke-width="0.9" stroke-dasharray="4 1.2"/>
<path d="M403.8,327.5 L400,340" stroke-width="0.9" stroke-dasharray="4 1.2"/>
<path d="M416.9,326.9 L413.1,339.4" stroke-width="0.9" stroke-dasharray="4 1.2"/>
<path d="M428.8,327.5 L425,338.8" stroke-width="0.9" stroke-dasharray="4 1.2"/>
<path d="M440.6,328.8 L438.1,336.9" stroke-width="0.9" stroke-dasharray="4 1.2"/>
</g>
<text class="k" x="455.3 439 422.1 405.3 388.4" y="269.3 263.8 259.3 252.5 248.1" rotate="18" font-size="8.6" font-weight="700" text-anchor="middle"><tspan fill="#999" style="stroke:#999">保</tspan><tspan fill="#444" style="stroke:#444">安</tspan><tspan fill="#777" style="stroke:#777">街</tspan><tspan fill="#555" style="stroke:#555">一</tspan><tspan fill="#222">段</tspan></text>
<text class="k" x="381.3 387.7 395.7" y="285.3 288.5 291.3" rotate="17" font-size="5.8" font-weight="700" text-anchor="middle" fill="#111">二五九</text>
<text class="s" x="370" y="264.17" font-size="5.2" font-weight="700" text-anchor="middle" transform="rotate(17 370 262.3)" fill="#222">7</text>
<text class="s" x="393.1" y="271.27" font-size="5.2" font-weight="700" text-anchor="middle" transform="rotate(17 393.1 269.4)" fill="#222">E</text>
<text class="s" x="419.4" y="279.97" font-size="5.2" font-weight="700" text-anchor="middle" transform="rotate(17 419.4 278.1)" fill="#222">F</text>
<text class="s" x="357.5" y="285.67" font-size="5.2" font-weight="700" text-anchor="middle" transform="rotate(17 357.5 283.8)" fill="#222">G</text>
<text class="s" x="351.3" y="301.27" font-size="5.2" font-weight="700" text-anchor="middle" transform="rotate(17 351.3 299.4)" fill="#222">H</text>
<text class="s" x="378.8" y="300.67" font-size="5.2" font-weight="700" text-anchor="middle" transform="rotate(17 378.8 298.8)" fill="#222">I</text>
<text class="s" x="405" y="308.77" font-size="5.2" font-weight="700" text-anchor="middle" transform="rotate(17 405 306.9)" fill="#222">A</text>
<text class="s" x="435" y="309.37" font-size="5.2" font-weight="700" text-anchor="middle" transform="rotate(17 435 307.5)" fill="#222">B</text>
<text class="s" x="443.8" y="289.06" font-size="6" font-weight="700" text-anchor="middle" transform="rotate(17 443.8 286.9)">C</text>
<text class="k" x="303.77 303.77 303.77" y="250.33 254.93 259.53" font-size="3.7" font-weight="700" text-anchor="middle" transform="matrix(1.14 0 0 1 0 0)" fill="#222" style="stroke:#222">二五九</text>
<text class="k" x="297.81 297.81" y="263.27 267.27" font-size="3.52" font-weight="700" text-anchor="middle" transform="matrix(1.14 0 0 1 0 0)" fill="#555" style="stroke:#555">二一</text>
<text class="k" x="274.12 274.12 274.12 274.12" y="293.96 299.46 304.96 310.96" font-size="4.05" font-weight="700" text-anchor="middle" transform="matrix(1.14 0 0 1 0 0)" fill="#333" style="stroke:#333">二六〇号</text>
<text class="k" x="318.5" y="333" font-size="5.2" font-weight="700" textLength="14" lengthAdjust="spacing" fill="#111">五二七</text>
<text class="k" x="296.93 296.93" y="333.36 338.66" font-size="3.78" font-weight="700" text-anchor="middle" transform="matrix(1.14 0 0 1 0 0)" fill="#111" style="stroke:#111">三二</text>
<text class="k" x="307.02 307.02" y="333.36 338.66" font-size="3.78" font-weight="700" text-anchor="middle" transform="matrix(1.14 0 0 1 0 0)" fill="#222" style="stroke:#222">五三</text>
<text class="k" x="319.12 319.12" y="333.36 338.66" font-size="3.78" font-weight="700" text-anchor="middle" transform="matrix(1.14 0 0 1 0 0)" fill="#222" style="stroke:#222">五六</text>
<text class="k" x="330.7 330.7" y="333.36 338.66" font-size="3.78" font-weight="700" text-anchor="middle" transform="matrix(1.14 0 0 1 0 0)" fill="#999" style="stroke:#999">二三</text>
<text class="k" x="342.98 342.98" y="333.36 338.66" font-size="3.78" font-weight="700" text-anchor="middle" transform="matrix(1.14 0 0 1 0 0)" fill="#777" style="stroke:#777">五七</text>
<text class="k" x="355.26 355.26" y="333.36 338.66" font-size="3.78" font-weight="700" text-anchor="middle" transform="matrix(1.14 0 0 1 0 0)" fill="#777" style="stroke:#777">五九</text>
<text class="k" x="367.98 367.98" y="333.36 338.66" font-size="3.78" font-weight="700" text-anchor="middle" transform="matrix(1.14 0 0 1 0 0)" fill="#222" style="stroke:#222">四〇</text>
<text class="k" x="379.39 379.39" y="333.36 338.66" font-size="3.78" font-weight="700" text-anchor="middle" transform="matrix(1.14 0 0 1 0 0)" fill="#333" style="stroke:#333">四一</text>
<text class="k" x="457.5" y="307.83" font-size="3.7" font-weight="700" text-anchor="middle" transform="rotate(17 457.5 306.5) matrix(1.14 0 0 1 -64.05 0)" fill="#222" style="stroke:#222">五</text>
<text class="k" x="456.2" y="312.83" font-size="3.7" font-weight="700" text-anchor="middle" transform="rotate(17 456.2 311.5) matrix(1.14 0 0 1 -63.87 0)" fill="#222" style="stroke:#222">九</text>
<text class="k" x="452" y="321.33" font-size="3.7" font-weight="700" text-anchor="middle" transform="rotate(17 452 320) matrix(1.14 0 0 1 -63.28 0)" fill="#222" style="stroke:#222">二</text>
<text class="s" transform="translate(57.3 403.3) rotate(90)" font-size="16.5" font-weight="700" textLength="17.5" lengthAdjust="spacingAndGlyphs">89.</text>
<text class="k" x="63.5" y="428.51" font-size="8.36" font-weight="700" text-anchor="middle" transform="matrix(1.14 0 0 1 -8.89 0)">年</text>
<text class="s" transform="translate(57.5 433.3) rotate(90)" font-size="16.5" font-weight="700" textLength="10.5" lengthAdjust="spacingAndGlyphs">5.</text>
<text class="k" x="63.5" y="453.51" font-size="8.36" font-weight="700" text-anchor="middle" transform="matrix(1.14 0 0 1 -8.89 0)">月</text>
<text class="s" transform="translate(57.3 450.3) rotate(90)" font-size="20" font-weight="700" textLength="23" lengthAdjust="spacingAndGlyphs" stroke="#000" stroke-width="0.6">20</text>
<text class="k" x="63.5" y="481.81" font-size="8.36" font-weight="700" text-anchor="middle" transform="matrix(1.14 0 0 1 -8.89 0)">日</text>
<text class="k" transform="translate(43.5 418) rotate(-8)" font-size="12" font-weight="400" font-style="italic" style="stroke-width:.25px">72</text>
<text class="k" x="42.98 42.98" y="428.81 439.01" font-size="8.36" font-weight="700" text-anchor="middle" transform="matrix(1.14 0 0 1 0 0)">字第</text>
<text class="k" transform="translate(45 443) rotate(83)" font-size="12" font-weight="400" font-style="italic" style="stroke-width:.25px" textLength="26" lengthAdjust="spacingAndGlyphs">10650</text>
<text class="k" x="49" y="481.81" font-size="8.36" font-weight="700" text-anchor="middle" transform="matrix(1.14 0 0 1 -6.86 0)">號</text>
</svg>
</body>
</html>
